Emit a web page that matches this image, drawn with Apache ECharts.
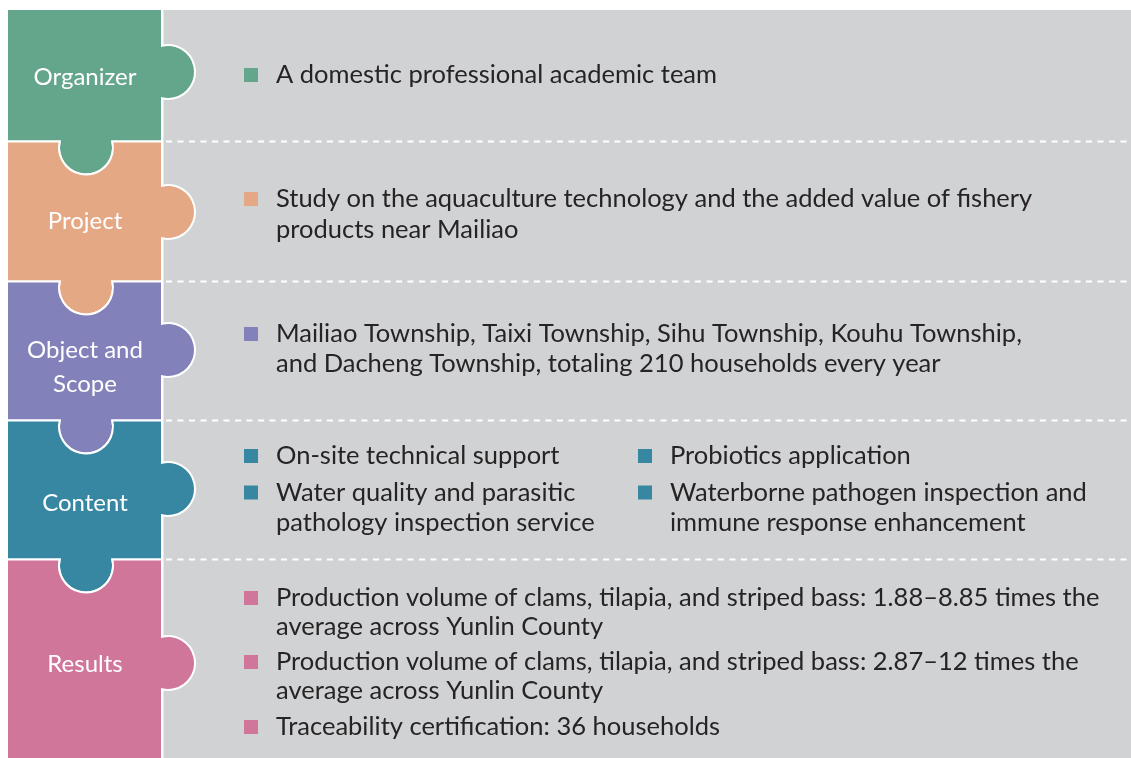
<!DOCTYPE html>
<html><head><meta charset="utf-8">
<script src="https://cdn.jsdelivr.net/npm/echarts@6/dist/echarts.min.js"></script>
<style>html,body{margin:0;padding:0;background:#fff}#c{width:1131px;height:758px}</style>
</head><body><div id="c"></div>
<script>
// ---- content ----
const sectionLabels = ['Organizer', 'Project', 'Object and\nScope', 'Content', 'Results'];
const organizerItems = ['A domestic professional academic team'];
const projectItems = ['Study on the aquaculture technology and the added value of fishery\nproducts near Mailiao'];
const scopeItems = ['Mailiao Township, Taixi Township, Sihu Township, Kouhu Township,\nand Dacheng Township, totaling 210 households every year'];
const contentItems = ['On-site technical support', 'Water quality and parasitic\npathology inspection service', 'Probiotics application', 'Waterborne pathogen inspection and\nimmune response enhancement'];
const resultItems = ['Production volume of clams, tilapia, and striped bass: 1.88\u20138.85 times the\naverage across Yunlin County', 'Production volume of clams, tilapia, and striped bass: 2.87\u201312 times the\naverage across Yunlin County', 'Traceability certification: 36 households'];
const sectionItems = [organizerItems, projectItems, scopeItems, contentItems, resultItems];

// ---- layout / style (kept separate from content) ----
const FONT = 'Lato, "Open Sans", sans-serif';
const FS = 25.5;
const LFS = 24;
const palette = ['#64A68B', '#E4A885', '#8381B9', '#3787A3', '#CF769A'];
const bounds = [9, 141.5, 281.5, 420.5, 559.5, 764];
const knobY = [72, 212, 350, 489, 663];
const labelY = [77, 221, 367, 503, 664];
const labelLH = 34;
const lineH = [30, 31, 30, 30, 29];
const itemPos = [
  [[276, 75]],
  [[276, 199]],
  [[276, 334]],
  [[276, 456], [276, 492.5], [670, 456], [670, 492.5]],
  [[276, 598], [276, 662], [276, 727]]
];

function piecePath(top, bottom, ky, hasTop, hasBottom) {
  const L = 7, R = 162, cx = 86, r = 27, d = 6, h = Math.sqrt(r * r - d * d);
  let p = 'M' + L + ',' + top;
  if (hasTop) p += ' L' + (cx - h) + ',' + top + ' A' + r + ',' + r + ' 0 1 0 ' + (cx + h) + ',' + top;
  p += ' L' + R + ',' + top + ' L' + R + ',' + (ky - h) + ' A' + r + ',' + r + ' 0 1 1 ' + R + ',' + (ky + h) + ' L' + R + ',' + bottom;
  if (hasBottom) p += ' L' + (cx + h) + ',' + bottom + ' A' + r + ',' + r + ' 0 1 1 ' + (cx - h) + ',' + bottom;
  p += ' L' + L + ',' + bottom + ' Z';
  return p;
}

const chart = echarts.init(document.getElementById('c'), null, {renderer: 'canvas'});

const graphicEls = [{
  type: 'rect', z: 0, shape: {x: 163.5, y: 10, width: 1131 - 163.5, height: 760},
  style: {fill: '#D1D2D4'}
}];
for (let k = 1; k < 5; k++) {
  graphicEls.push({
    type: 'line', z: 1,
    shape: {x1: 166, y1: bounds[k], x2: 1131, y2: bounds[k]},
    style: {stroke: '#FFFFFF', lineWidth: 2, lineDash: [6, 5.5]}
  });
}

function renderItem(params) {
  const i = params.dataIndex;
  const children = [];
  children.push({
    type: 'path',
    shape: {pathData: piecePath(bounds[i], bounds[i + 1], knobY[i], i > 0, i < 4)},
    style: {fill: palette[i], stroke: '#FFFFFF', lineWidth: 2}
  });
  const lbl = sectionLabels[i];
  const nl = lbl.split('\n').length;
  children.push({
    type: 'text', x: 85, y: labelY[i] - nl * labelLH / 2,
    style: {text: lbl, fill: '#FFFFFF', fontSize: LFS, fontFamily: FONT, align: 'center', verticalAlign: 'top', lineHeight: labelLH}
  });
  sectionItems[i].forEach(function (txt, j) {
    const pos = itemPos[i][j];
    children.push({
      type: 'rect', shape: {x: pos[0] - 32, y: pos[1] - 7, width: 14, height: 14},
      style: {fill: palette[i]}
    });
    children.push({
      type: 'text', x: pos[0], y: pos[1] - lineH[i] / 2,
      style: {text: txt, fill: '#262324', fontSize: FS, fontFamily: FONT, align: 'left', verticalAlign: 'top', lineHeight: lineH[i]}
    });
  });
  return {type: 'group', children: children};
}

chart.setOption({
  animation: false,
  graphic: {elements: graphicEls},
  series: [{
    type: 'custom',
    coordinateSystem: 'none',
    renderItem: renderItem,
    data: sectionLabels.map(function (_, i) { return i; }),
    silent: true
  }]
});
</script>
</body></html>
